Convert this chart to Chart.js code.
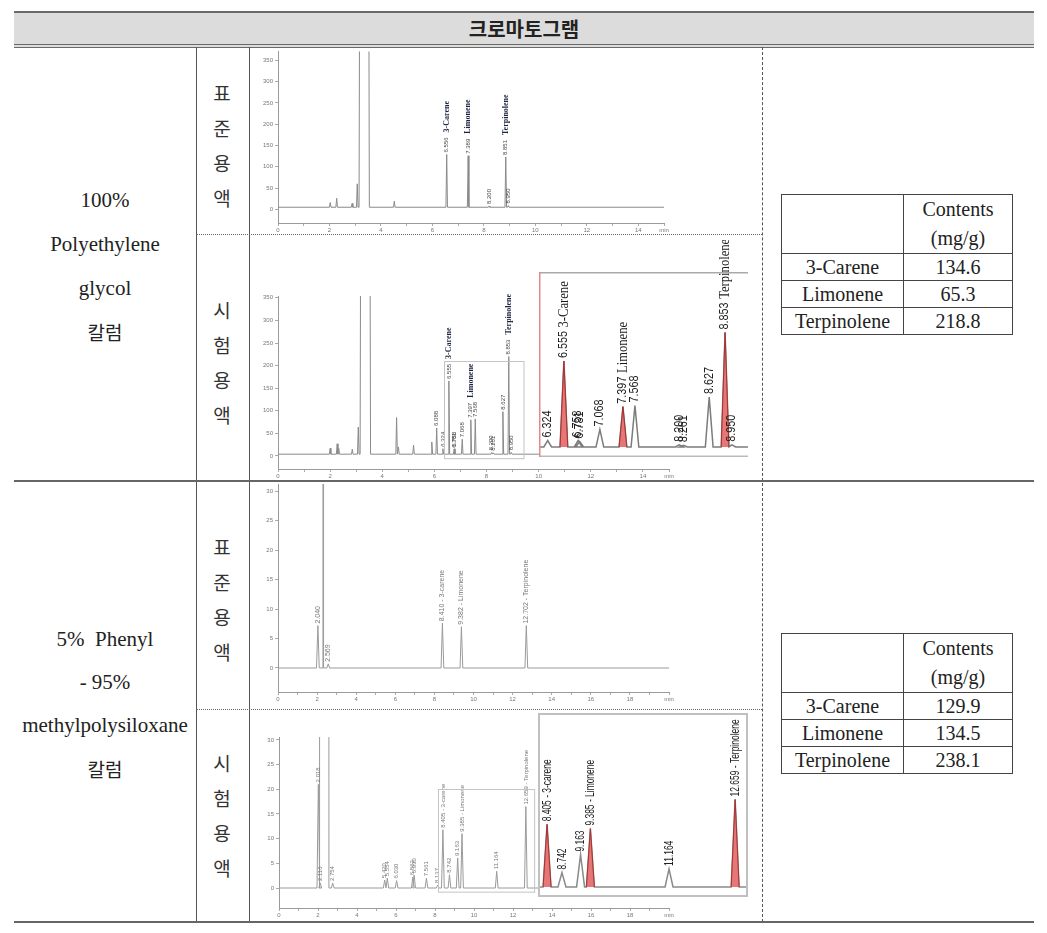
<!DOCTYPE html>
<html>
<head>
<meta charset="utf-8">
<script src="https://cdn.jsdelivr.net/npm/chart.js@4.4.0/dist/chart.umd.min.js"></script>
<style>
body{margin:0;width:1047px;height:933px;position:relative;overflow:hidden;background:#fff;
  font-family:"Liberation Serif","Noto Sans CJK KR",serif;color:#222;}
.a{position:absolute}
canvas{position:absolute}
.line{position:absolute;z-index:5}
.col{position:absolute;text-align:center;font-size:21px;line-height:44px;left:14px;width:182px}
.vert{position:absolute;left:204px;width:36px;text-align:center;font-family:"Noto Sans CJK KR",sans-serif;font-size:19px;line-height:35px;color:#333}
table.res{position:absolute;left:781px;width:232px;border-collapse:collapse;font-size:20px;z-index:6}
table.res td{border:1px solid #444;text-align:center;padding:0;height:26px;line-height:26px}
table.res td.h{height:58px;line-height:29px}
</style>
</head>
<body>

<!-- header band -->
<div class="a" style="left:14px;top:11px;width:1020px;height:31px;background:#dcdcdc;border-top:2px solid #6a6a6a;border-bottom:4px double #6a6a6a;"></div>
<div class="a" style="left:14px;top:13px;width:1020px;height:31px;line-height:31px;text-align:center;font-family:'Noto Sans CJK KR',sans-serif;font-weight:bold;font-size:20px;color:#222;">크로마토그램</div>

<!-- charts -->
<canvas id="pegStd" width="510" height="188" style="left:250px;top:46px"></canvas>
<canvas id="pegTest" width="510" height="245" style="left:250px;top:235px"></canvas>
<canvas id="pegInset" width="209" height="217" style="left:539px;top:240px"></canvas>
<canvas id="phStd" width="510" height="232" style="left:250px;top:478px"></canvas>
<canvas id="phTest" width="510" height="212" style="left:250px;top:710px"></canvas>
<canvas id="phInset" width="210" height="184" style="left:538px;top:713px"></canvas>

<!-- table lines -->
<div class="line" style="left:196px;top:47px;width:1px;height:875px;background:#555"></div>
<div class="line" style="left:249px;top:47px;width:1px;height:875px;background:#555"></div>
<div class="line" style="left:762px;top:47px;width:0;height:875px;border-left:1px dashed #555"></div>
<div class="line" style="left:196px;top:234px;width:566px;height:0;border-top:1px dotted #666"></div>
<div class="line" style="left:196px;top:709px;width:566px;height:0;border-top:1px dotted #666"></div>
<div class="line" style="left:14px;top:480px;width:1020px;height:2px;background:#666"></div>
<div class="line" style="left:14px;top:921px;width:1020px;height:2px;background:#666"></div>

<!-- left column -->
<div class="col" style="top:178px">100%<br>Polyethylene<br>glycol<br><span style="font-family:'Noto Sans CJK KR';font-size:19px">칼럼</span></div>
<div class="col" style="top:618px;line-height:43px">5%&nbsp; Phenyl<br>- 95%<br>methylpolysiloxane<br><span style="font-family:'Noto Sans CJK KR';font-size:19px">칼럼</span></div>

<div class="vert" style="top:75px">표<br>준<br>용<br>액</div>
<div class="vert" style="top:292px">시<br>험<br>용<br>액</div>
<div class="vert" style="top:529px">표<br>준<br>용<br>액</div>
<div class="vert" style="top:745px">시<br>험<br>용<br>액</div>

<table class="res" id="res1" style="top:194px"></table>
<table class="res" id="res2" style="top:633px"></table>

<script>
// ---------- data ----------
var compounds = ['3-Carene', 'Limonene', 'Terpinolene'];
var pegContents = [134.6, 65.3, 218.8];
var phenylContents = [129.9, 134.5, 238.1];

// 100% polyethylene glycol column, standard solution
var pegStdTimes   = [2.03, 2.28, 2.88, 3.08, 4.52, 6.556, 7.389, 8.200, 8.851, 8.950];
var pegStdHeights = [16, 26, 14, 60, 19, 129, 126, 8, 123, 9];
var pegStdNames   = [null, null, null, null, null, '3-Carene', 'Limonene', '', 'Terpinolene', ''];
var pegStdSolvent = [3.15, 3.55];

// 100% polyethylene glycol column, test solution
var pegTestTimes   = [2.00, 2.27, 2.33, 2.85, 3.08, 4.55, 4.62, 5.20, 5.90, 6.088, 6.324, 6.555, 6.758, 6.781, 7.068, 7.397, 7.568, 8.200, 8.261, 8.627, 8.853, 8.950];
var pegTestHeights = [17, 27, 17, 15, 64, 85, 20, 24, 31, 62, 16, 166, 16, 14, 37, 80, 82, 8, 7, 98, 220, 8];
var pegTestNames   = [null, null, null, null, null, null, null, null, null, '', '', '3-Carene', '', '', '', 'Limonene', '', '', '', '', 'Terpinolene', ''];
var pegTestSolvent = [3.15, 3.55];
var pegTestMarked  = [6.555, 7.397, 8.853];

// 5% phenyl - 95% methylpolysiloxane column, standard solution
var phStdTimes   = [2.040, 2.569, 8.410, 9.382, 12.702];
var phStdHeights = [7.2, 0.7, 7.6, 7.0, 7.2];
var phStdNames   = ['', '', '3-carene', 'Limonene', 'Terpinolene'];
var phStdSolvent = [2.27, 2.33];

// 5% phenyl - 95% methylpolysiloxane column, test solution
var phTestTimes   = [2.018, 2.116, 2.754, 5.420, 5.554, 6.030, 6.862, 6.930, 7.561, 8.137, 8.405, 8.742, 9.163, 9.385, 11.164, 12.659];
var phTestHeights = [21, 1.0, 1.0, 1.6, 2.0, 1.5, 2.2, 2.6, 2.0, 0.6, 11.8, 2.7, 6.1, 11.0, 3.4, 16.5];
var phTestNames   = ['', '', '', '', '', '', '', '', '', '', '3-carene', '', '', 'Limonene', '', 'Terpinolene'];
var phTestSolvent = [2.08, 2.56];
var phTestMarked  = [8.405, 9.385, 12.659];

// axes
var pegXTicks  = [0, 1, 2, 3, 4, 5, 6, 7, 8, 9, 10, 11, 12, 13, 14, 15];
var pegXLabels = ['0', '', '2', '', '4', '', '6', '', '8', '', '10', '', '12', '', '14', 'min'];
var phXTicks   = [0, 1, 2, 3, 4, 5, 6, 7, 8, 9, 10, 11, 12, 13, 14, 15, 16, 17, 18, 19, 20];
var phXLabels  = ['0', '', '2', '', '4', '', '6', '', '8', '', '10', '', '12', '', '14', '', '16', '', '18', '', 'min'];
var pegYTicks  = [0, 50, 100, 150, 200, 250, 300, 350];
var phYTicks   = [0, 5, 10, 15, 20, 25, 30];

// ---------- result tables ----------
function fillTable(id, values) {
  var html = '<tr><td class="h" style="width:121px"></td><td class="h">Contents<br>(mg/g)</td></tr>';
  compounds.forEach(function (c, i) {
    html += '<tr><td>' + c + '</td><td>' + values[i].toFixed(1) + '</td></tr>';
  });
  document.getElementById(id).innerHTML = html;
}
fillTable('res1', pegContents);
fillTable('res2', phenylContents);

// ---------- chromatograms ----------
function trace(times, heights, solvent, base, w, xMax) {
  var peaks = times.map(function (t, i) { return {t: t, h: heights[i], w: w}; });
  if (solvent) peaks.push({t: (solvent[0] + solvent[1]) / 2, h: 5000, w: (solvent[1] - solvent[0]) / 2});
  peaks.sort(function (a, b) { return a.t - b.t; });
  var pts = [{x: 0, y: base}];
  peaks.forEach(function (p) {
    pts.push({x: p.t - p.w, y: base}, {x: p.t, y: p.h}, {x: p.t + p.w, y: base});
  });
  pts.push({x: xMax, y: base});
  return pts;
}

function labelPlugin(o) {
  return {
    id: 'peakLabels',
    afterDatasetsDraw: function (chart) {
      var xs = chart.scales.x, ys = chart.scales.y, ctx = chart.ctx;
      ctx.save();
      ctx.textBaseline = 'middle';
      ctx.textAlign = 'left';
      o.times.forEach(function (t, i) {
        var name = o.names[i];
        if (name === null || t < xs.min || t > xs.max) return;
        var px = xs.getPixelForValue(t);
        var py = ys.getPixelForValue(o.heights[i]) - o.gap;
        var txt = t.toFixed(3);
        if (o.joined && name) txt += ' - ' + name;
        ctx.save();
        ctx.translate(px, py);
        ctx.rotate(-Math.PI / 2);
        ctx.scale(o.squeeze || 1, 1);
        ctx.font = o.font;
        ctx.fillStyle = o.color;
        ctx.fillText(txt, 0, 0);
        if (!o.joined && name) {
          var w = ctx.measureText(txt).width;
          ctx.font = o.nameFont;
          ctx.fillStyle = o.nameColor;
          ctx.fillText(name, w + o.nameGap, 0);
        }
        ctx.restore();
      });
      ctx.restore();
    }
  };
}

function boxPlugin(box) {
  return {
    id: 'zoomBox',
    afterDatasetsDraw: function (chart) {
      if (!box) return;
      var xs = chart.scales.x, ys = chart.scales.y, ctx = chart.ctx;
      var x0 = xs.getPixelForValue(box[0]), x1 = xs.getPixelForValue(box[1]);
      var y0 = ys.getPixelForValue(box[2]), y1 = ys.getPixelForValue(box[3]);
      ctx.save();
      ctx.strokeStyle = '#c4c4c4';
      ctx.lineWidth = 1;
      ctx.strokeRect(Math.round(x0) + 0.5, Math.round(y1) + 0.5, x1 - x0, y0 - y1);
      ctx.restore();
    }
  };
}

function framePlugin(f) {
  return {
    id: 'insetFrame',
    beforeDatasetsDraw: function (chart) {
      var a = chart.chartArea, ctx = chart.ctx;
      ctx.save();
      ctx.fillStyle = '#fff';
      ctx.fillRect(a.left, a.top, a.right - a.left, a.bottom - a.top);
      ctx.restore();
    },
    afterDraw: function (chart) {
      var a = chart.chartArea, ctx = chart.ctx;
      ctx.save();
      ctx.lineWidth = f.width;
      function seg(c, x0, y0, x1, y1) {
        if (!c) return;
        ctx.strokeStyle = c;
        ctx.beginPath(); ctx.moveTo(x0, y0); ctx.lineTo(x1, y1); ctx.stroke();
      }
      var h = f.width / 2;
      seg(f.top, a.left, a.top + h, a.right, a.top + h);
      seg(f.bottom, a.left, a.bottom - h, a.right, a.bottom - h);
      seg(f.left, a.left + h, a.top, a.left + h, a.bottom);
      seg(f.right, a.right - h, a.top, a.right - h, a.bottom);
      ctx.restore();
    }
  };
}

function chrom(id, o) {
  var sets = [{
    data: trace(o.times, o.heights, o.solvent, o.base, o.w, o.xMax),
    borderColor: o.lineColor, borderWidth: o.lineWidth, pointRadius: 0, fill: false, tension: 0, order: 1
  }];
  (o.marked || []).forEach(function (t) {
    var i = o.times.indexOf(t);
    sets.push({
      data: [{x: t - o.w, y: o.base}, {x: t, y: o.heights[i]}, {x: t + o.w, y: o.base}],
      borderColor: '#a83232', borderWidth: 1, backgroundColor: 'rgba(228,104,104,0.9)',
      fill: {value: o.base}, pointRadius: 0, tension: 0, order: 0
    });
  });
  var tickFont = {size: 6, family: 'Liberation Sans'};
  var plugins = [labelPlugin(o.labels), boxPlugin(o.box)];
  if (o.frame) plugins.push(framePlugin(o.frame));
  return new Chart(document.getElementById(id), {
    type: 'line',
    data: {datasets: sets},
    options: {
      responsive: false, animation: false, devicePixelRatio: 1,
      layout: {padding: o.padding},
      plugins: {legend: {display: false}, tooltip: {enabled: false}},
      scales: {
        x: {
          type: 'linear', min: o.xMin, max: o.xMax, display: !o.frame,
          afterBuildTicks: function (s) { s.ticks = o.xTicks.map(function (v) { return {value: v}; }); },
          afterFit: function (s) { s.height = o.xHeight; },
          ticks: {autoSkip: false, maxRotation: 0, padding: 1, color: '#777', font: tickFont,
                  callback: function (v, i) { return o.xLabels[i]; }},
          grid: {drawOnChartArea: false, tickLength: 3, color: '#aaa'},
          border: {color: '#9a9a9a'}
        },
        y: {
          type: 'linear', min: o.yMin, max: o.yMax, display: !o.frame,
          afterBuildTicks: function (s) { s.ticks = o.yTicks.map(function (v) { return {value: v}; }); },
          afterFit: function (s) { s.width = o.yWidth; },
          ticks: {autoSkip: false, padding: 2, color: '#777', font: tickFont},
          grid: {drawOnChartArea: false, tickLength: 3, color: '#aaa'},
          border: {color: '#9a9a9a'}
        }
      }
    },
    plugins: plugins
  });
}

var pegMainLabels = function (times, heights, names) {
  return {times: times, heights: heights, names: names, gap: 2, font: '6px Liberation Sans', color: '#444',
          nameFont: 'bold 8px Liberation Serif', nameColor: '#1c2540', nameGap: 5};
};
var phMainLabels = function (times, heights, names, size) {
  return {times: times, heights: heights, names: names, gap: 2, font: size + 'px Liberation Sans', color: '#777', joined: true};
};

chrom('pegStd', {
  times: pegStdTimes, heights: pegStdHeights, solvent: pegStdSolvent, base: 5, w: 0.03,
  xMin: 0, xMax: 15, yMin: -32, yMax: 370.6, xTicks: pegXTicks, xLabels: pegXLabels, yTicks: pegYTicks,
  padding: {top: 1, right: 96, left: 0, bottom: 0}, xHeight: 11, yWidth: 28,
  lineColor: '#8a8a8a', lineWidth: 1,
  labels: pegMainLabels(pegStdTimes, pegStdHeights, pegStdNames)
});

chrom('pegTest', {
  times: pegTestTimes, heights: pegTestHeights, solvent: pegTestSolvent, base: 4, w: 0.03,
  xMin: 0, xMax: 15, yMin: -28.8, yMax: 354, xTicks: pegXTicks, xLabels: pegXLabels, yTicks: pegYTicks,
  padding: {top: 61, right: 91, left: 0, bottom: 0}, xHeight: 11, yWidth: 28,
  lineColor: '#8a8a8a', lineWidth: 1, box: [6.37, 9.42, -4, 211],
  labels: pegMainLabels(pegTestTimes, pegTestHeights, pegTestNames)
});

chrom('pegInset', {
  times: pegTestTimes, heights: pegTestHeights, solvent: pegTestSolvent, base: 4, w: 0.055,
  xMin: 6.2, xMax: 9.18, yMin: -15, yMax: 334, xTicks: pegXTicks, xLabels: pegXLabels, yTicks: pegYTicks,
  padding: {top: 32, right: 0, left: 0, bottom: 0}, xHeight: 0, yWidth: 0,
  lineColor: '#7c7c7c', lineWidth: 1.5, marked: pegTestMarked,
  frame: {width: 1.5, top: '#aaaaaa', left: '#e28a8a', bottom: '#bbbbbb', right: null},
  labels: {times: pegTestTimes, heights: pegTestHeights, names: pegTestNames, gap: 3, squeeze: 0.9,
           font: '12px Liberation Sans', color: '#1a1a1a', nameFont: '14px Liberation Serif', nameColor: '#1a1a1a', nameGap: 4}
});

chrom('phStd', {
  times: phStdTimes, heights: phStdHeights, solvent: phStdSolvent, base: 0, w: 0.07,
  xMin: 0, xMax: 20, yMin: -4.07, yMax: 31.2, xTicks: phXTicks, xLabels: phXLabels, yTicks: phYTicks,
  padding: {top: 6, right: 91, left: 0, bottom: 0}, xHeight: 18, yWidth: 28,
  lineColor: '#9a9a9a', lineWidth: 1,
  labels: phMainLabels(phStdTimes, phStdHeights, phStdNames, 7)
});

chrom('phTest', {
  times: phTestTimes, heights: phTestHeights, solvent: phTestSolvent, base: 0, w: 0.07,
  xMin: 0, xMax: 20, yMin: -4.05, yMax: 30.6, xTicks: phXTicks, xLabels: phXLabels, yTicks: phYTicks,
  padding: {top: 27, right: 91, left: 0, bottom: 0}, xHeight: 14, yWidth: 29,
  lineColor: '#9a9a9a', lineWidth: 1, box: [8.15, 13.08, -0.8, 20],
  labels: phMainLabels(phTestTimes, phTestHeights, phTestNames, 6)
});

chrom('phInset', {
  times: phTestTimes, heights: phTestHeights, solvent: phTestSolvent, base: 0, w: 0.09,
  xMin: 8.2, xMax: 12.95, yMin: -1.9, yMax: 32.8, xTicks: phXTicks, xLabels: phXLabels, yTicks: phYTicks,
  padding: {top: 0, right: 0, left: 0, bottom: 0}, xHeight: 0, yWidth: 0,
  lineColor: '#8a8a8a', lineWidth: 1.5, marked: phTestMarked,
  frame: {width: 2, top: '#c0c0c0', left: '#c0c0c0', bottom: '#c0c0c0', right: '#c0c0c0'},
  labels: {times: phTestTimes, heights: phTestHeights, names: phTestNames, gap: 3, squeeze: 0.65,
           font: '13px Liberation Sans', color: '#222', joined: true}
});
</script>
</body>
</html>
